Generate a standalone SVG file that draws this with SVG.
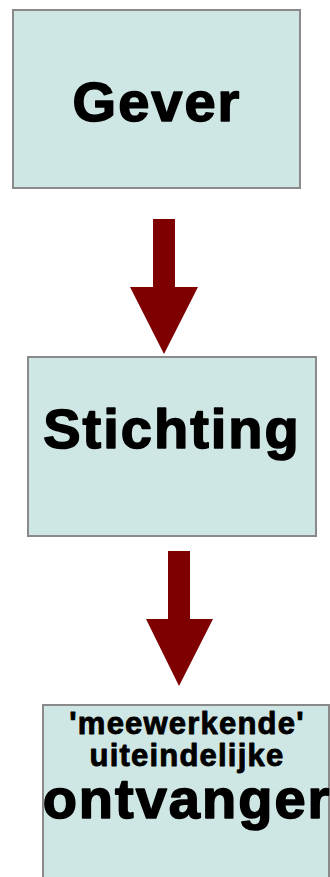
<svg xmlns="http://www.w3.org/2000/svg" width="330" height="877" viewBox="0 0 330 877">
  <style>
    .box { fill: #cfe7e4; stroke: #8a8a8a; stroke-width: 2; }
    .lbl { font-family: "Liberation Sans", Arial, sans-serif; font-weight: bold; fill: #000; stroke: #000; stroke-width: 1.6; stroke-linejoin: round; text-anchor: middle; }
    .big { font-size: 56px; letter-spacing: 2px; }
    .small { font-size: 31px; letter-spacing: 1.2px; stroke-width: 0.9; }
    .arrow { fill: #7f0000; }
  </style>
  <rect width="330" height="877" fill="#ffffff"/>
  <g id="gever">
    <rect class="box" x="13" y="10" width="287" height="178"/>
    <text class="lbl big" x="157" y="121">Gever</text>
  </g>
  <g id="stichting">
    <rect class="box" x="28" y="357" width="288" height="179"/>
    <text class="lbl big" x="172" y="448">Stichting</text>
  </g>
  <g id="ontvanger">
    <rect class="box" x="43" y="705" width="286" height="190"/>
    <text class="lbl small" x="187" y="734">'meewerkende'</text>
    <text class="lbl small" x="187" y="766">uiteindelijke</text>
    <text class="lbl big" x="187" y="818">ontvanger</text>
  </g>
  <g id="connectors">
    <polygon class="arrow" points="153,219 175,219 175,287 198,287 164,354 130,287 153,287"/>
    <polygon class="arrow" points="168,551 190,551 190,619 213,619 179,686 146,619 168,619"/>
  </g>
</svg>
